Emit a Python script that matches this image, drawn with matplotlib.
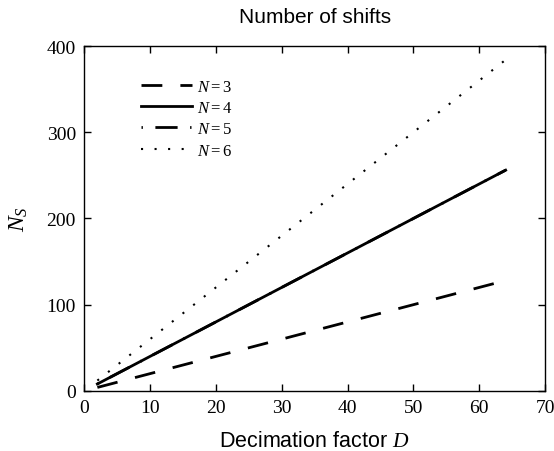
import matplotlib
matplotlib.use("Agg")
import matplotlib.pyplot as plt

plt.rcParams['mathtext.fontset'] = 'custom'
plt.rcParams['mathtext.it'] = 'Liberation Serif:italic'
plt.rcParams['mathtext.rm'] = 'Liberation Serif'

D = [2, 4, 8, 16, 32, 64]
ns_n3 = [4, 8, 16, 32, 64, 128]
ns_n4 = [8, 16, 32, 64, 128, 256]
ns_n5 = [8, 16, 32, 64, 128, 256]
ns_n6 = [12, 24, 48, 96, 192, 384]
labels = ["$N = 3$", "$N = 4$", "$N = 5$", "$N = 6$"]

fig = plt.figure(figsize=(5.54, 4.52), dpi=100)
ax = fig.add_axes([0.152, 0.133, 0.832, 0.763])

ax.plot(D, ns_n3, color='black', lw=2.0, linestyle=(0, (7.5, 6.5)), label=labels[0])
ax.plot(D, ns_n4, color='black', lw=2.0, linestyle='-', label=labels[1])
ax.plot(D, ns_n5, color='black', lw=2.0, linestyle=(0, (0.5, 4.5, 8, 4.5)), label=labels[2])
ax.plot(D, ns_n6, color='black', lw=1.5, linestyle=(0, (1, 5.5)), label=labels[3])

ax.set_xlim(0, 70)
ax.set_ylim(0, 400)
ax.set_xticks(range(0, 71, 10))
ax.set_yticks(range(0, 401, 100))
ax.tick_params(direction='in', top=True, right=True, length=5, width=1,
               labelsize=14, pad=6)
for lab in ax.get_xticklabels() + ax.get_yticklabels():
    lab.set_fontfamily('Liberation Serif')
for s in ax.spines.values():
    s.set_linewidth(1.0)

ax.set_title("Number of shifts", fontsize=15, family='Liberation Sans', pad=17)
ax.set_xlabel("Decimation factor $D$", fontsize=15.5, family='Liberation Sans', labelpad=10)
ax.set_ylabel("$N_S$", fontsize=17, labelpad=12)

leg = ax.legend(loc='upper left', bbox_to_anchor=(0.09, 0.955), frameon=False,
                fontsize=12, handlelength=3.1, handletextpad=0.3, labelspacing=0.2)

fig.savefig("out.png", dpi=100)
